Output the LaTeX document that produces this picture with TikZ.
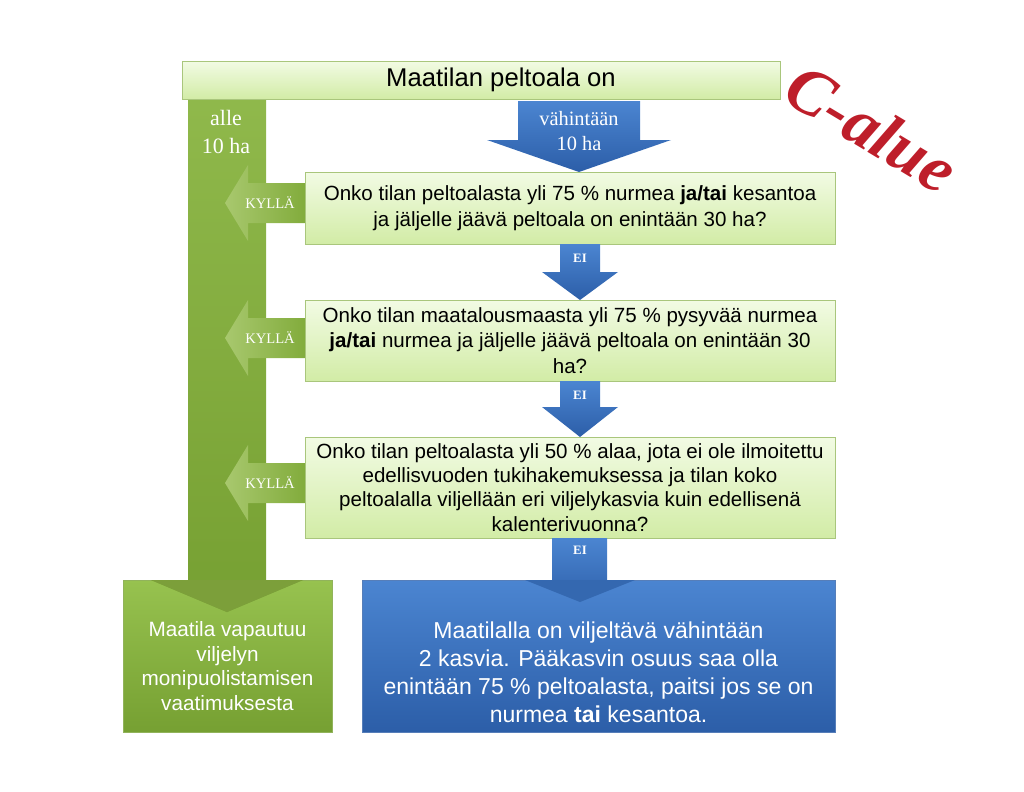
\documentclass[tikz,border=0pt]{standalone}
\usepackage{fontspec}
\setmainfont{Liberation Sans}
\newfontfamily\serifnum{Liberation Serif}

\definecolor{qtop}{HTML}{F2FBE4}
\definecolor{qbot}{HTML}{D2ECA6}
\definecolor{qline}{HTML}{A9C67C}
\definecolor{grtop}{HTML}{97C24F}
\definecolor{grbot}{HTML}{76A032}
\definecolor{grhead}{HTML}{7C9F3A}
\definecolor{yesleft}{HTML}{A8C86E}
\definecolor{yesright}{HTML}{82AC3C}
\definecolor{bltop}{HTML}{4B85D1}
\definecolor{blbot}{HTML}{2C5EA8}
\definecolor{blhead}{HTML}{3468B0}
\definecolor{redC}{HTML}{BE1E2A}

\tikzset{
  qbox/.style={draw=qline, top color=qtop, bottom color=qbot, align=center, inner sep=0pt,
    minimum width=10.6cm, font=\fontsize{11.7}{14.5}\selectfont},
  ylabel/.style={text=white, font=\serifnum\fontsize{8.3}{9}\selectfont},
  nlabel/.style={text=white, font=\serifnum\bfseries\fontsize{7.3}{9}\selectfont},
}

\begin{document}
\begin{tikzpicture}[x=0.02cm, y=-0.02cm]
    \useasboundingbox (0,0) rectangle (1024,791);
    % lower boxes
    \node[top color=grtop, bottom color=grbot, draw=grbot!80!white, minimum width=4.18cm, minimum height=3.04cm,
      inner sep=0pt, align=center, text=white, font=\fontsize{11.8}{13.9}\selectfont] at (227.5,656) (free)
      {\\[6pt]Maatila vapautuu\\viljelyn\\monipuolistamisen\\vaatimuksesta};
    \node[top color=bltop, bottom color=blbot, draw=blbot!80!white, minimum width=9.46cm, minimum height=3.04cm,
      inner sep=0pt] at (598.5,656) (crops) {};
    % left column
    \shade[top color=grtop!95!black, bottom color=grbot] (188,99) -- (266,99) -- (266,580) -- (303,580)
      -- (227,612) -- (151,580) -- (188,580) -- cycle;
    \fill[grhead] (151,580) -- (303,580) -- (227,612) -- cycle;
    % yes arrows
    \foreach \yy in {203,338,483} {
      \shade[left color=yesleft, right color=yesright] (305,\yy-20) -- (248,\yy-20) -- (248,\yy-38)
        -- (225,\yy) -- (248,\yy+38) -- (248,\yy+20) -- (305,\yy+20) -- cycle;
    }
    % boxes
    \node[draw=qline, top color=qtop, bottom color=qbot, minimum width=11.96cm, minimum height=0.76cm,
      inner sep=0pt] at (481,80) (area) {};
    \node[qbox, minimum height=1.44cm] at (570,208) (q1)
      {Onko tilan peltoalasta yli 75 \% nurmea \textbf{ja/tai} kesantoa\\ja jäljelle jäävä peltoala on enintään 30 ha?};
    \node[qbox, minimum height=1.62cm] at (570,340.5) (q2)
      {Onko tilan maatalousmaasta yli 75 \% pysyvää nurmea\\\textbf{ja/tai} nurmea ja jäljelle jäävä peltoala on enintään 30\\ha?};
    \node[qbox, minimum height=2.02cm, font=\fontsize{11.7}{13.8}\selectfont] at (570,487.5) (q3)
      {Onko tilan peltoalasta yli 50 \% alaa, jota ei ole ilmoitettu\\edellisvuoden tukihakemuksessa ja tilan koko\\peltoalalla viljellään eri viljelykasvia kuin edellisenä\\kalenterivuonna?};
    % down arrows
    \shade[top color=bltop, bottom color=blbot] (518,101) -- (640,101) -- (640,140) -- (671,140) -- (579,172)
      -- (487,140) -- (518,140) -- cycle;
    \shade[top color=bltop, bottom color=blbot] (560,244) -- (600,244) -- (600,272) -- (618,272) -- (580,300)
      -- (542,272) -- (560,272) -- cycle;
    \shade[top color=bltop, bottom color=blbot] (560,381) -- (600,381) -- (600,407) -- (618,407) -- (580,437)
      -- (542,407) -- (560,407) -- cycle;
    \shade[top color=bltop, bottom color=blbot!60!bltop] (552,538) -- (607,538) -- (607,580) -- (552,580) -- cycle;
    \fill[blhead] (525,580) -- (635,580) -- (580,602) -- cycle;
    % texts
    \node[font=\fontsize{14.6}{17}\selectfont] at (501,80) (areatxt) {Maatilan peltoala on};
    \node[text=white, align=center, font=\fontsize{13.1}{15.9}\selectfont] at (598.5,672) (cropstxt)
      {Maatilalla on viljeltävä vähintään\\2 kasvia. Pääkasvin osuus saa olla\\enintään 75 \% peltoalasta, paitsi jos se on\\nurmea \textbf{tai} kesantoa.};
    \node[text=white, align=center, font=\serifnum\fontsize{12.5}{16}\selectfont] at (226,132) (under)
      {alle\\10 ha};
    \node[text=white, align=center, font=\serifnum\fontsize{11.6}{14.5}\selectfont] at (579,131) (over)
      {vähintään\\10 ha};
    \node[ylabel] at (270,203) (yes1) {KYLLÄ};
    \node[ylabel] at (270,338) (yes2) {KYLLÄ};
    \node[ylabel] at (270,483) (yes3) {KYLLÄ};
    \node[nlabel] at (580,258) (no1) {EI};
    \node[nlabel] at (580,395) (no2) {EI};
    \node[nlabel] at (580,550) (no3) {EI};
    % stamp
    \node[rotate=-31, text=redC, font=\serifnum\bfseries\itshape\fontsize{38}{40}\selectfont] at (872,128) (stamp) {C-alue};
\end{tikzpicture}
\end{document}
